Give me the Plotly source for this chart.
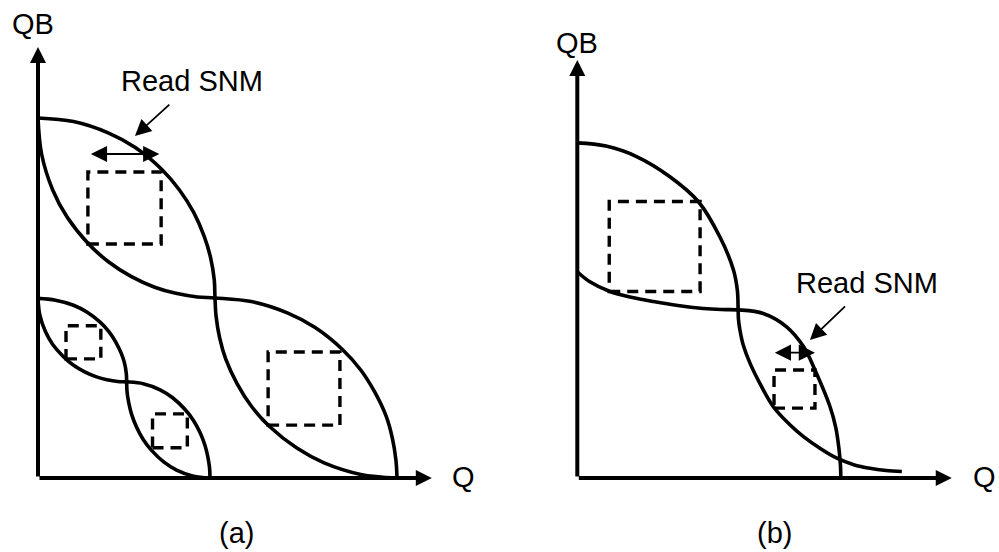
import plotly.graph_objects as go

# ---------------------------------------------------------------------------
# Butterfly curves (normalised voltages, Q on x, QB on y)
# ---------------------------------------------------------------------------
# (a) large cell: inverter-1 transfer curve and its mirrored partner
a_big_vtc_x = [0.000, 0.099, 0.197, 0.271, 0.345, 0.394, 0.434, 0.463, 0.481, 0.491, 0.493,
               0.496, 0.506, 0.523, 0.554, 0.594, 0.645, 0.721, 0.797, 0.899, 1.000]
a_big_vtc_y = [1.000, 0.990, 0.958, 0.918, 0.857, 0.800, 0.737, 0.671, 0.611, 0.550, 0.500,
               0.450, 0.389, 0.330, 0.263, 0.200, 0.143, 0.083, 0.042, 0.010, 0.000]
a_big_mir_x = [0.000, 0.010, 0.041, 0.081, 0.141, 0.197, 0.259, 0.325, 0.384, 0.444, 0.493,
               0.594, 0.696, 0.772, 0.848, 0.899, 0.939, 0.970, 0.987, 0.997, 1.000]
a_big_mir_y = [1.000, 0.900, 0.800, 0.725, 0.650, 0.600, 0.560, 0.530, 0.513, 0.503, 0.500,
               0.490, 0.458, 0.418, 0.357, 0.300, 0.237, 0.171, 0.111, 0.050, 0.000]

# (a) small cell (lower supply)
a_small_vtc_x = [0.000, 0.049, 0.099, 0.136, 0.173, 0.198, 0.217, 0.232, 0.241, 0.246, 0.247,
                 0.248, 0.253, 0.261, 0.275, 0.293, 0.317, 0.351, 0.386, 0.433, 0.479]
a_small_vtc_y = [0.499, 0.494, 0.480, 0.461, 0.433, 0.406, 0.377, 0.346, 0.319, 0.290, 0.267,
                 0.240, 0.208, 0.176, 0.140, 0.107, 0.076, 0.044, 0.022, 0.005, 0.000]
a_small_mir_x = [0.000, 0.005, 0.021, 0.041, 0.071, 0.099, 0.130, 0.163, 0.192, 0.222, 0.247,
                 0.293, 0.340, 0.375, 0.409, 0.433, 0.451, 0.465, 0.473, 0.478, 0.479]
a_small_mir_y = [0.499, 0.453, 0.406, 0.371, 0.337, 0.313, 0.295, 0.281, 0.273, 0.268, 0.267,
                 0.262, 0.245, 0.223, 0.191, 0.160, 0.127, 0.091, 0.059, 0.027, 0.000]

# (b) cell with read disturb
b_vtc_x = [0.000, 0.080, 0.165, 0.258, 0.337, 0.397, 0.435, 0.446, 0.448,
           0.449, 0.453, 0.462, 0.481, 0.510, 0.546, 0.590, 0.630, 0.680, 0.723,
           0.770, 0.815, 0.860, 0.904]
b_vtc_y = [0.931, 0.922, 0.893, 0.837, 0.768, 0.670, 0.578, 0.520, 0.467,
           0.440, 0.411, 0.370, 0.319, 0.260, 0.198, 0.150, 0.115, 0.080, 0.055,
           0.037, 0.027, 0.021, 0.018]
b_mir_x = [0.000, 0.035, 0.091, 0.150, 0.212, 0.280, 0.351, 0.400, 0.448,
           0.518, 0.583, 0.630, 0.662, 0.704, 0.720, 0.729, 0.733, 0.734]
b_mir_y = [0.573, 0.545, 0.518, 0.502, 0.490, 0.479, 0.471, 0.468, 0.467,
           0.457, 0.420, 0.365, 0.300, 0.198, 0.140, 0.080, 0.035, 0.000]

# Largest embedded squares (x0, y0, x1, y1)
a_boxes = [(0.139, 0.650, 0.343, 0.850),
           (0.641, 0.147, 0.841, 0.350),
           (0.078, 0.331, 0.175, 0.423),
           (0.319, 0.084, 0.416, 0.178)]
b_boxes = [(0.089, 0.518, 0.342, 0.768),
           (0.548, 0.194, 0.662, 0.300)]

# SNM width markers: (x_left, x_right, y) and pointer (tail -> head)
a_snm_span = (0.143, 0.338, 0.900)
a_snm_pointer = ((0.370, 1.041), (0.270, 0.950))
b_snm_span = (0.546, 0.662, 0.348)
b_snm_pointer = ((0.750, 0.481), (0.648, 0.383))

# Axis arrow tips
a_axis_tip = (1.097, 1.197)
b_axis_tip = (1.043, 1.161)

FONT = dict(family="Liberation Sans, Arial, sans-serif", size=29, color="black")
BLACK = "black"

fig = go.Figure()


def add_curve(xs, ys, xa, ya):
    fig.add_trace(go.Scatter(x=xs, y=ys, mode="lines", xaxis=xa, yaxis=ya,
                             line=dict(color=BLACK, width=3.6, shape="spline", smoothing=1),
                             hoverinfo="skip", showlegend=False))


add_curve(a_big_vtc_x, a_big_vtc_y, "x", "y")
add_curve(a_big_mir_x, a_big_mir_y, "x", "y")
add_curve(a_small_vtc_x, a_small_vtc_y, "x", "y")
add_curve(a_small_mir_x, a_small_mir_y, "x", "y")
add_curve(b_vtc_x, b_vtc_y, "x2", "y2")
add_curve(b_mir_x, b_mir_y, "x2", "y2")

shapes = []
for boxes, xr, yr in ((a_boxes, "x", "y"), (b_boxes, "x2", "y2")):
    for x0, y0, x1, y1 in boxes:
        shapes.append(dict(type="rect", xref=xr, yref=yr, x0=x0, y0=y0, x1=x1, y1=y1,
                           line=dict(color=BLACK, width=3.4, dash="11px,7px"),
                           fillcolor="rgba(0,0,0,0)"))

annotations = []


def arrow(xr, yr, tail, head, width, size, both=False):
    d = dict(xref=xr, yref=yr, axref=xr, ayref=yr, x=head[0], y=head[1],
             ax=tail[0], ay=tail[1], text="", showarrow=True, arrowcolor=BLACK,
             arrowwidth=width, arrowhead=2, arrowsize=size)
    if both:
        d.update(arrowside="end+start", startarrowhead=2, startarrowsize=size)
    annotations.append(d)


def label(xr, yr, x, y, text):
    annotations.append(dict(xref=xr, yref=yr, x=x, y=y, text=text, showarrow=False,
                            font=FONT, xanchor="center", yanchor="middle"))


for xr, yr, tip in (("x", "y", a_axis_tip), ("x2", "y2", b_axis_tip)):
    arrow(xr, yr, (0, 0), (tip[0], 0), 4, 0.8)
    arrow(xr, yr, (0, 0), (0, tip[1]), 4, 0.8)

for xr, yr, span, ptr in (("x", "y", a_snm_span, a_snm_pointer),
                          ("x2", "y2", b_snm_span, b_snm_pointer)):
    arrow(xr, yr, (span[0], span[2]), (span[1], span[2]), 1.8, 1.8, both=True)
    arrow(xr, yr, ptr[0], ptr[1], 1.8, 1.8)

label("x", "y", -0.014, 1.262, "QB")
label("x", "y", 1.184, 0.004, "Q")
label("x", "y", 0.430, 1.102, "Read SNM")
label("x", "y", 0.552, -0.152, "(a)")

label("x2", "y2", -0.002, 1.208, "QB")
label("x2", "y2", 1.133, 0.004, "Q")
label("x2", "y2", 0.808, 0.543, "Read SNM")
label("x2", "y2", 0.549, -0.152, "(b)")

hidden = dict(visible=False, showgrid=False, zeroline=False, fixedrange=True)
fig.update_layout(
    width=999, height=552,
    margin=dict(l=0, r=0, t=0, b=0),
    paper_bgcolor="white", plot_bgcolor="white",
    showlegend=False,
    xaxis=dict(domain=[0, 0.5], range=[-0.10585, 1.28551], **hidden),
    xaxis2=dict(domain=[0.5, 1], range=[-0.21671, 1.17465], **hidden),
    yaxis=dict(domain=[0, 1], range=[-0.20556, 1.32778], anchor="x", **hidden),
    yaxis2=dict(domain=[0, 1], range=[-0.20556, 1.32778], anchor="x2", **hidden),
    shapes=shapes,
    annotations=annotations,
)

fig.write_html("out.html")
